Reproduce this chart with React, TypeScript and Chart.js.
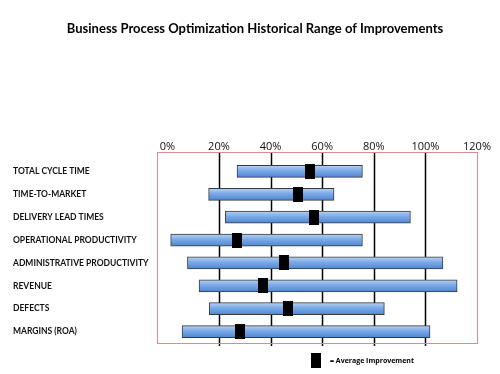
import React, { useEffect, useRef } from "react";
import { Chart, registerables } from "chart.js";

Chart.register(...registerables);

const categories = [
  "TOTAL CYCLE TIME",
  "TIME-TO-MARKET",
  "DELIVERY LEAD TIMES",
  "OPERATIONAL PRODUCTIVITY",
  "ADMINISTRATIVE PRODUCTIVITY",
  "REVENUE",
  "DEFECTS",
  "MARGINS (ROA)",
];
const rangeLow = [27, 16, 22.5, 1.3, 7.8, 12.3, 16.2, 5.7];
const rangeHigh = [75.6, 64.6, 94.2, 75.6, 106.8, 112.3, 84.1, 101.8];
const averages = [55.1, 50.7, 57.0, 27.0, 45.3, 36.9, 46.6, 28.1];
const xTicks = [0, 20, 40, 60, 80, 100, 120];
const gridValues = [20, 40, 60, 80, 100];
const titleText = "Business Process Optimization Historical Range of Improvements";
const legendText = "= Average Improvement";

const FONT = "'Open Sans', 'Noto Sans', sans-serif";
const LATO = "Lato, 'Open Sans', sans-serif";

function makeMarker(w: number, h: number) {
  const c = document.createElement("canvas");
  c.width = w;
  c.height = h;
  const ctx = c.getContext("2d")!;
  ctx.fillStyle = "#000";
  ctx.fillRect(0, 0, w, h);
  return c;
}

export default function App() {
  const ref = useRef<HTMLCanvasElement>(null);
  useEffect(() => {
    document.body.style.margin = "0";
    const marker = makeMarker(10, 15);

    const framePlugin = {
      id: "frame",
      beforeDatasetsDraw(chart: any) {
        const { ctx, chartArea } = chart;
        const xs = chart.scales.x;
        ctx.save();
        ctx.strokeStyle = "#000";
        ctx.lineWidth = 1.5;
        gridValues.forEach((v) => {
          const px = Math.round(xs.getPixelForValue(v)) + 0.5;
          ctx.beginPath();
          ctx.moveTo(px, chartArea.top - 8);
          ctx.lineTo(px, chartArea.bottom + 3);
          ctx.stroke();
        });
        ctx.strokeStyle = "#e08a8a";
        ctx.lineWidth = 1;
        ctx.strokeRect(
          Math.round(chartArea.left) + 0.5,
          Math.round(chartArea.top - 8) + 0.5,
          Math.round(chartArea.right - chartArea.left),
          Math.round(chartArea.bottom - chartArea.top + 8)
        );
        ctx.restore();
      },
      afterDraw(chart: any) {
        const { ctx } = chart;
        ctx.save();
        ctx.fillStyle = "#000";
        ctx.font = `bold 13px ${LATO}`;
        ctx.textAlign = "center";
        ctx.textBaseline = "middle";
        ctx.fillText(titleText, 255, 29);
        ctx.drawImage(marker, 311, 353);
        ctx.font = `bold 7px ${FONT}`;
        ctx.textAlign = "left";
        ctx.fillText(legendText, 330, 361);
        ctx.restore();
      },
    };

    const chart = new Chart(ref.current!, {
      type: "bar",
      data: {
        labels: categories,
        datasets: [
          {
            type: "bar",
            data: rangeLow.map((l, i) => [l, rangeHigh[i]]) as any,
            backgroundColor: (c: any) => {
              const ch = c.chart;
              const ys = ch.scales && ch.scales.y;
              if (!ys || c.dataIndex === undefined) return "#6a9ee0";
              const y = ys.getPixelForValue(c.dataIndex);
              if (!isFinite(y)) return "#6a9ee0";
              const g = ch.ctx.createLinearGradient(0, y - 6, 0, y + 6);
              g.addColorStop(0, "#b7d2f4");
              g.addColorStop(0.45, "#7aa9e6");
              g.addColorStop(1, "#4f86d2");
              return g;
            },
            borderColor: "#3a3a3a",
            borderWidth: 1,
            borderSkipped: false,
            barThickness: 12,
            order: 2,
          } as any,
          {
            type: "scatter",
            data: averages.map((a, i) => ({ x: a, y: categories[i] })) as any,
            pointStyle: marker as any,
            pointRadius: 6,
            showLine: false,
            order: 1,
          } as any,
        ],
      },
      options: {
        indexAxis: "y",
        animation: false,
        responsive: false,
        maintainAspectRatio: false,
        layout: { padding: { left: 13, right: 23, top: 0, bottom: 31 } },
        plugins: { legend: { display: false }, tooltip: { enabled: false }, title: { display: false } },
        scales: {
          x: {
            type: "linear",
            position: "top",
            min: -4,
            max: 120,
            afterBuildTicks(scale: any) {
              scale.ticks = xTicks.map((v) => ({ value: v }));
            },
            afterFit(scale: any) {
              scale.height = 160;
            },
            grid: { display: false, drawTicks: false },
            border: { display: false },
            ticks: {
              padding: 7,
              color: "#111",
              font: { family: FONT, size: 11 },
              callback: (v: any) => `${v}%`,
            },
          },
          y: {
            type: "category",
            afterFit(scale: any) {
              scale.width = 144;
            },
            grid: { display: false, drawTicks: false },
            border: { display: false },
            ticks: {
              crossAlign: "far",
              color: "#111",
              font: { family: LATO, size: 8.5, weight: "bold" },
            },
          },
        },
      } as any,
      plugins: [framePlugin],
    });
    return () => chart.destroy();
  }, []);
  return (
    <div style={{ position: "fixed", left: 0, top: 0, width: 500, height: 374, background: "#fff" }}>
      <canvas ref={ref} width={500} height={374} style={{ width: 500, height: 374 }} />
    </div>
  );
}
